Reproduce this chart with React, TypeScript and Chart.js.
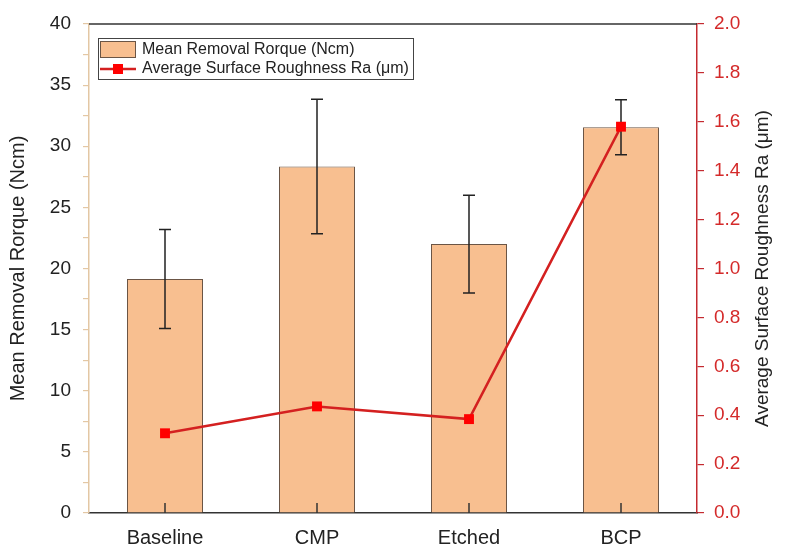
import React, { useEffect, useRef } from "react";
import { Chart, registerables } from "chart.js";

Chart.register(...registerables);

const categories = ["Baseline", "CMP", "Etched", "BCP"];
const torqueMean = [19.15, 28.35, 22.0, 31.55];
const torqueErr = [4.05, 5.5, 4.0, 2.25];
const roughnessRa = [0.326, 0.436, 0.384, 1.58];
const leftTitle = "Mean Removal Rorque (Ncm)";
const rightTitle = "Average Surface Roughness Ra (\u03bcm)";
const legendBar = "Mean Removal Rorque (Ncm)";
const legendLine = "Average Surface Roughness Ra (\u03bcm)";

const FONT = "'Liberation Sans', Arial, sans-serif";
const BAR_FILL = "#F8BF90";
const BAR_EDGE = "#6b5545";
const RED_LINE = "#D42020";
const RED_AXIS = "#C42A30";
const TAN = "#E3C7A4";

const decorPlugin = {
  id: "decor",
  afterDatasetDraw(chart: any, args: any) {
    if (args.index !== 0) return;
    const ctx = chart.ctx;
    const meta = chart.getDatasetMeta(0);
    const y = chart.scales.y;
    ctx.save();
    ctx.strokeStyle = "#222";
    ctx.lineWidth = 1.5;
    meta.data.forEach((el: any, i: number) => {
      const x = el.x;
      const hi = y.getPixelForValue(torqueMean[i] + torqueErr[i]);
      const lo = y.getPixelForValue(torqueMean[i] - torqueErr[i]);
      ctx.beginPath();
      ctx.moveTo(x, hi);
      ctx.lineTo(x, lo);
      ctx.moveTo(x - 6, hi);
      ctx.lineTo(x + 6, hi);
      ctx.moveTo(x - 6, lo);
      ctx.lineTo(x + 6, lo);
      ctx.stroke();
    });
    ctx.restore();
  },
  afterDraw(chart: any) {
    const ctx = chart.ctx;
    const a = chart.chartArea;
    const xs = chart.scales.x;
    ctx.save();
    // top border
    ctx.strokeStyle = "#333";
    ctx.lineWidth = 1.5;
    ctx.beginPath();
    ctx.moveTo(a.left, a.top);
    ctx.lineTo(a.right, a.top);
    ctx.stroke();
    // inward x ticks
    categories.forEach((_, i) => {
      const px = xs.getPixelForValue(i);
      ctx.beginPath();
      ctx.moveTo(px, a.bottom);
      ctx.lineTo(px, a.bottom - 10);
      ctx.stroke();
    });
    // axis titles
    ctx.fillStyle = "#222";
    ctx.textAlign = "center";
    ctx.textBaseline = "middle";
    const midY = (a.top + a.bottom) / 2;
    ctx.font = `20px ${FONT}`;
    ctx.save();
    ctx.translate(18, midY);
    ctx.rotate(-Math.PI / 2);
    ctx.fillText(leftTitle, 0, 0);
    ctx.restore();
    ctx.font = `19px ${FONT}`;
    ctx.save();
    ctx.translate(763, midY);
    ctx.rotate(-Math.PI / 2);
    ctx.fillText(rightTitle, 0, 0);
    ctx.restore();
    // legend
    const bx = a.left + 9;
    const by = a.top + 14;
    ctx.fillStyle = "#fff";
    ctx.fillRect(bx, by, 315, 41);
    ctx.strokeStyle = "#444";
    ctx.lineWidth = 1;
    ctx.strokeRect(bx + 0.5, by + 0.5, 315, 41);
    ctx.fillStyle = BAR_FILL;
    ctx.fillRect(bx + 2, by + 3, 36, 17);
    ctx.strokeStyle = BAR_EDGE;
    ctx.strokeRect(bx + 2.5, by + 3.5, 35, 16);
    ctx.strokeStyle = RED_LINE;
    ctx.lineWidth = 2.5;
    ctx.beginPath();
    ctx.moveTo(bx + 2, by + 31);
    ctx.lineTo(bx + 38, by + 31);
    ctx.stroke();
    ctx.fillStyle = "#FF0000";
    ctx.fillRect(bx + 15, by + 26, 10, 10);
    ctx.fillStyle = "#222";
    ctx.textAlign = "left";
    ctx.font = `16px ${FONT}`;
    ctx.fillText(legendBar, bx + 44, by + 12);
    ctx.fillText(legendLine, bx + 44, by + 31);
    ctx.restore();
  },
};

export default function App() {
  const ref = useRef<HTMLCanvasElement | null>(null);
  useEffect(() => {
    if (!ref.current) return;
    const chart = new Chart(ref.current, {
      type: "bar",
      data: {
        labels: categories,
        datasets: [
          {
            type: "bar",
            label: legendBar,
            data: torqueMean,
            backgroundColor: BAR_FILL,
            borderColor: BAR_EDGE,
            borderWidth: 1,
            barPercentage: 0.5,
            categoryPercentage: 1,
            yAxisID: "y",
            order: 1,
          },
          {
            type: "line",
            label: legendLine,
            data: roughnessRa,
            borderColor: RED_LINE,
            borderWidth: 2.5,
            pointStyle: "rect",
            pointRadius: 7,
            pointBackgroundColor: "#FF0000",
            pointBorderColor: "#FF0000",
            pointBorderWidth: 0,
            yAxisID: "y1",
            order: 0,
          } as any,
        ],
      },
      options: {
        responsive: false,
        animation: false,
        devicePixelRatio: 1,
        layout: { padding: { top: 24, left: 0, right: 0, bottom: 0 } },
        plugins: { legend: { display: false }, tooltip: { enabled: false } },
        scales: {
          x: {
            type: "category",
            offset: true,
            grid: { display: false, drawTicks: false },
            border: { display: true, color: "#333", width: 1.5 },
            ticks: { color: "#222", font: { family: FONT, size: 20 }, padding: 13 },
            afterFit: (s: any) => { s.height = 46; },
          },
          y: {
            position: "left",
            min: 0,
            max: 40,
            ticks: {
              stepSize: 2.5,
              color: "#222",
              font: { family: FONT, size: 19 },
              padding: 12,
              callback: (v: any) => (Number(v) % 5 === 0 ? String(v) : ""),
            },
            grid: { drawOnChartArea: false, tickLength: 6, color: TAN, lineWidth: 1.2 },
            border: { display: true, color: TAN, width: 1.5 },
            afterFit: (s: any) => { s.width = 89; },
          },
          y1: {
            position: "right",
            min: 0,
            max: 2,
            ticks: {
              stepSize: 0.1,
              color: "#D42A2A",
              font: { family: FONT, size: 19 },
              padding: 10,
              callback: (v: any) => (Math.round(Number(v) * 10) % 2 === 0 ? Number(v).toFixed(1) : ""),
            },
            grid: { drawOnChartArea: false, tickLength: 7, color: RED_AXIS, lineWidth: 1.2 },
            border: { display: true, color: RED_AXIS, width: 1.5 },
            afterFit: (s: any) => { s.width = 89; },
          },
        },
      } as any,
      plugins: [decorPlugin],
    });
    return () => chart.destroy();
  }, []);
  return (
    <div style={{ position: "absolute", left: 0, top: 0, width: 786, height: 559, background: "#fff" }}>
      <canvas ref={ref} width={786} height={559} style={{ display: "block" }} />
    </div>
  );
}
